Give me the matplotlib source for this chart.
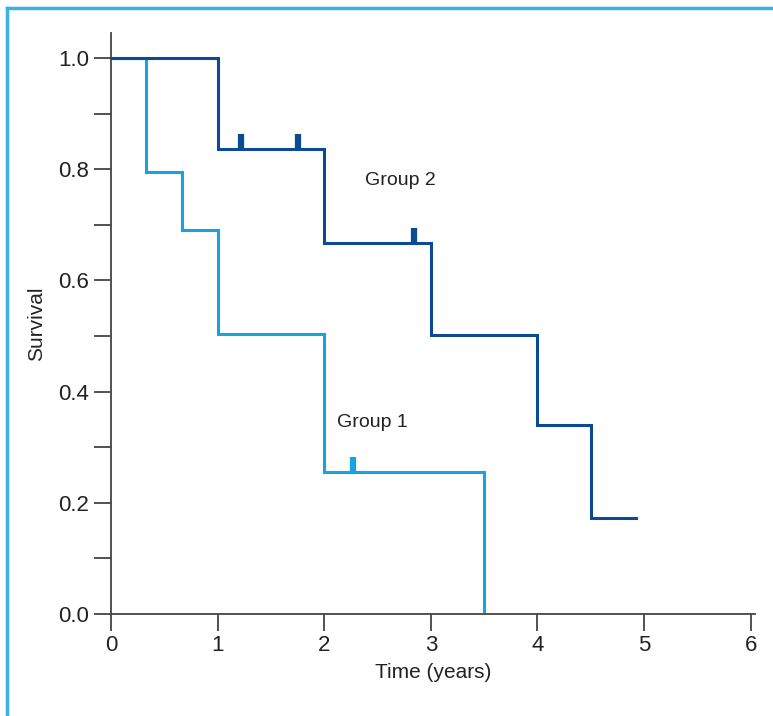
import numpy as np
import matplotlib
matplotlib.use("Agg")
import matplotlib.pyplot as plt
from matplotlib.lines import Line2D

plt.rcParams['font.family'] = ['Liberation Sans Narrow', 'Liberation Sans', 'DejaVu Sans']

# survival step data (time, survival after the step)
g1_time = [0, 0.33, 0.67, 1.0, 2.0, 3.5]
g1_surv = [1.0, 0.795, 0.69, 0.503, 0.256, 0.005]
g1_end = 3.5
g1_censor = [2.27]

g2_time = [0, 1.0, 2.0, 3.0, 4.0, 4.5]
g2_surv = [1.0, 0.837, 0.668, 0.502, 0.34, 0.173]
g2_end = 4.92
g2_censor = [1.22, 1.75, 2.84]

c1 = "#17a3e0"
c2 = "#0d4a96"

fig = plt.figure(figsize=(7.73, 7.16), dpi=100)
ax = fig.add_axes([111/773, (716-614)/716, (755-111)/773, (614-33)/716])

def step_curve(times, surv, end, censor, color):
    xs = list(times) + [end]
    ys = list(surv) + [surv[-1]]
    ax.step(xs, ys, where='post', color=color, lw=2.2, solid_joinstyle='miter')
    for c in censor:
        idx = np.searchsorted(times, c, side='right') - 1
        ax.vlines(c, surv[idx], surv[idx] + 0.027, color=color, lw=4.5)

step_curve(g1_time, g1_surv, g1_end, g1_censor, c1)
step_curve(g2_time, g2_surv, g2_end, g2_censor, c2)

ax.text(2.38, 0.78, "Group 2", fontsize=14, color="#222222", va='center')
ax.text(2.12, 0.345, "Group 1", fontsize=14, color="#222222", va='center')

ax.set_xlim(0, 6.04)
ax.set_ylim(0, 1.045)
ax.set_xticks(range(7))
ax.set_yticks([0.0, 0.2, 0.4, 0.6, 0.8, 1.0])
ax.set_yticklabels(["0.0", "0.2", "0.4", "0.6", "0.8", "1.0"])
ax.set_yticks(np.arange(0.1, 1.0, 0.2), minor=True)
ax.tick_params(axis='both', which='both', length=12, width=1.3, color="#444444",
               labelsize=16, labelcolor="#222222", direction='out')
ax.tick_params(axis='x', pad=3)
ax.spines['top'].set_visible(False)
ax.spines['right'].set_visible(False)
for s in ['left', 'bottom']:
    ax.spines[s].set_color("#444444")
    ax.spines[s].set_linewidth(1.3)

ax.set_xlabel("Time (years)", fontsize=15, color="#222222", labelpad=5)
ax.set_ylabel("Survival", fontsize=15, color="#222222", labelpad=9)

# light blue frame around the figure
fig.add_artist(Line2D([7/773, 7/773], [0, 1 - 8/716], color="#3cb1e4", lw=2.5))
fig.add_artist(Line2D([7/773, 1], [1 - 8/716, 1 - 8/716], color="#3cb1e4", lw=2.5))

plt.savefig("out.png", dpi=100)
